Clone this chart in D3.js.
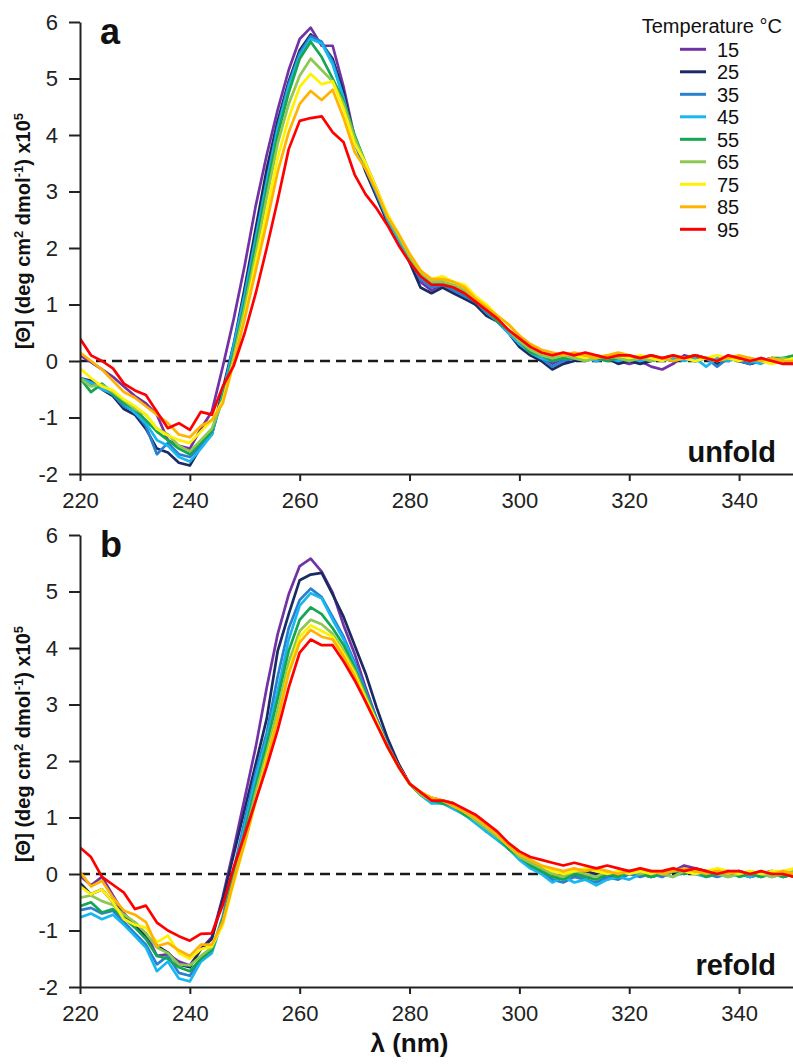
<!DOCTYPE html>
<html><head><meta charset="utf-8">
<script src="https://cdn.jsdelivr.net/npm/d3@7"></script>
<style>body{margin:0;background:#fff} svg{display:block}</style>
</head><body>
<svg id="c" width="793" height="1064"></svg>
<script>
const wavelengths = [220,222,224,226,228,230,232,234,236,238,
  240,242,244,246,248,250,252,254,256,258,
  260,262,264,266,268,270,272,274,276,278,
  280,282,284,286,288,290,292,294,296,298,
  300,302,304,306,308,310,312,314,316,318,
  320,322,324,326,328,330,332,334,336,338,
  340,342,344,346,348,350];
const temperatures = [15,25,35,45,55,65,75,85,95];
const seriesColors = ["#7232a6","#1c2a63","#2a80d0","#1ab6f0","#14a651","#8dc853","#fff200","#ffb300","#ff0000"];
const xTicks = [220,240,260,280,300,320,340];
const yTicks = [-2,-1,0,1,2,3,4,5,6];

// Panel a (unfold)
const a15 = [0.10,-0.02,-0.15,-0.28,-0.45,-0.62,-0.75,-0.95,-1.40,-1.50,
  -1.55,-1.20,-0.90,-0.10,0.75,1.70,2.75,3.65,4.45,5.15,
  5.70,5.90,5.58,5.58,4.85,3.95,3.40,2.95,2.45,2.15,
  1.80,1.40,1.25,1.35,1.25,1.15,1.00,0.85,0.70,0.50,
  0.30,0.20,0.05,-0.05,0.05,0.10,0.05,0.10,0.05,0.00,
  -0.05,0.00,-0.10,-0.15,-0.05,0.10,0.05,0.05,0.00,0.10,
  0.00,-0.05,0.00,0.05,0.00,-0.05];
const a25 = [-0.30,-0.35,-0.50,-0.62,-0.85,-0.95,-1.20,-1.55,-1.62,-1.80,
  -1.85,-1.52,-1.30,-0.50,0.30,1.30,2.35,3.40,4.25,4.95,
  5.50,5.78,5.62,5.35,4.75,3.90,3.35,2.90,2.45,2.10,
  1.75,1.30,1.20,1.30,1.20,1.10,1.00,0.80,0.70,0.50,
  0.25,0.10,0.00,-0.15,-0.05,0.00,0.05,0.00,0.05,-0.05,
  0.00,-0.05,0.00,0.05,0.00,0.05,0.10,0.05,-0.05,0.05,
  0.00,-0.05,0.00,0.05,0.00,0.00];
const a35 = [-0.30,-0.40,-0.45,-0.60,-0.80,-0.90,-1.15,-1.65,-1.45,-1.65,
  -1.70,-1.50,-1.30,-0.60,0.30,1.20,2.20,3.20,4.15,4.90,
  5.45,5.75,5.65,5.30,4.65,3.85,3.40,2.95,2.50,2.15,
  1.80,1.45,1.30,1.35,1.25,1.15,1.05,0.85,0.70,0.50,
  0.30,0.15,0.05,-0.10,0.00,0.05,0.00,0.05,0.00,0.05,
  0.00,0.05,0.00,0.05,0.00,0.05,0.00,0.05,-0.10,0.05,
  0.00,-0.05,0.05,0.00,0.05,0.00];
const a45 = [-0.30,-0.38,-0.50,-0.58,-0.75,-0.92,-1.10,-1.40,-1.50,-1.70,
  -1.78,-1.55,-1.30,-0.60,0.25,1.15,2.15,3.15,4.10,4.85,
  5.40,5.70,5.62,5.25,4.65,3.90,3.45,3.00,2.50,2.15,
  1.80,1.50,1.35,1.40,1.30,1.20,1.05,0.90,0.70,0.50,
  0.30,0.15,0.05,0.00,0.05,0.10,0.05,0.00,0.05,0.00,
  0.05,0.00,0.05,0.00,0.05,0.00,0.05,-0.10,0.05,0.00,
  0.05,0.00,-0.05,0.05,0.00,0.05];
const a55 = [-0.30,-0.55,-0.40,-0.58,-0.75,-0.85,-1.05,-1.25,-1.40,-1.55,
  -1.65,-1.45,-1.25,-0.65,0.15,1.05,2.05,3.05,4.00,4.75,
  5.35,5.65,5.38,5.00,4.60,4.00,3.50,3.05,2.55,2.20,
  1.85,1.50,1.40,1.40,1.30,1.20,1.05,0.90,0.70,0.55,
  0.35,0.15,0.10,0.00,0.05,0.05,0.10,0.05,0.00,0.05,
  0.00,0.05,0.10,0.05,0.00,0.05,0.10,0.05,0.00,0.05,
  0.00,0.05,0.00,0.05,0.05,0.10];
const a65 = [-0.30,-0.45,-0.42,-0.55,-0.70,-0.85,-0.95,-1.20,-1.30,-1.50,
  -1.60,-1.40,-1.20,-0.70,0.08,0.95,1.90,2.90,3.85,4.55,
  5.05,5.35,5.15,4.95,4.55,3.95,3.50,3.05,2.55,2.20,
  1.85,1.55,1.40,1.40,1.35,1.25,1.10,0.90,0.75,0.55,
  0.35,0.20,0.10,0.05,0.10,0.05,0.00,0.05,0.10,0.05,
  0.00,0.05,0.00,0.05,0.10,0.05,0.00,0.05,0.00,0.05,
  0.05,0.00,0.05,0.00,0.05,0.00];
const a75 = [-0.13,-0.30,-0.45,-0.52,-0.68,-0.80,-0.95,-1.20,-1.32,-1.40,
  -1.45,-1.25,-1.05,-0.70,0.00,0.80,1.75,2.65,3.60,4.30,
  4.85,5.08,4.90,4.95,4.45,3.85,3.50,3.05,2.60,2.25,
  1.90,1.60,1.45,1.50,1.40,1.35,1.15,1.00,0.80,0.65,
  0.45,0.25,0.15,0.10,0.15,0.10,0.05,0.10,0.05,0.10,
  0.05,0.10,0.05,0.00,0.10,0.05,0.00,0.05,0.10,0.05,
  0.00,0.05,0.00,-0.05,0.00,0.05];
const a85 = [0.15,0.00,-0.15,-0.35,-0.55,-0.65,-0.80,-0.95,-1.10,-1.30,
  -1.35,-1.15,-1.05,-0.75,-0.02,0.75,1.60,2.45,3.35,4.05,
  4.55,4.78,4.62,4.80,4.30,3.70,3.40,3.00,2.55,2.25,
  1.90,1.60,1.45,1.45,1.40,1.30,1.10,0.95,0.80,0.65,
  0.45,0.30,0.20,0.15,0.10,0.15,0.10,0.05,0.10,0.15,
  0.10,0.05,0.10,0.05,0.00,0.05,0.10,0.05,0.00,0.05,
  0.10,0.05,0.00,0.05,0.00,0.00];
const a95 = [0.40,0.10,0.00,-0.13,-0.40,-0.52,-0.60,-0.90,-1.19,-1.10,
  -1.22,-0.90,-0.95,-0.45,-0.08,0.50,1.20,2.00,2.85,3.75,
  4.25,4.30,4.33,4.05,3.87,3.30,2.95,2.70,2.40,2.05,
  1.75,1.50,1.35,1.35,1.30,1.20,1.05,0.90,0.75,0.55,
  0.40,0.25,0.15,0.10,0.15,0.10,0.15,0.10,0.05,0.10,
  0.10,0.05,0.10,0.05,0.10,0.05,0.10,0.05,0.00,0.10,
  0.05,0.00,0.05,0.00,-0.05,-0.05];

// Panel b (refold)
const b15 = [-0.03,-0.20,-0.05,-0.38,-0.70,-0.90,-1.05,-1.45,-1.42,-1.55,
  -1.62,-1.33,-1.12,-0.40,0.45,1.35,2.25,3.30,4.25,4.95,
  5.45,5.58,5.35,4.98,4.40,3.90,3.30,2.75,2.30,1.95,
  1.60,1.40,1.30,1.30,1.25,1.10,0.95,0.75,0.65,0.45,
  0.30,0.25,0.10,0.00,-0.05,0.00,-0.05,0.00,-0.10,0.00,
  0.05,0.00,0.05,-0.05,0.05,0.15,0.10,0.05,0.00,0.05,
  0.00,-0.05,0.00,0.05,0.00,0.00];
const b25 = [-0.16,-0.36,-0.27,-0.50,-0.74,-0.92,-1.09,-1.27,-1.39,-1.60,
  -1.65,-1.33,-1.15,-0.45,0.35,1.15,1.95,2.75,3.95,4.60,
  5.20,5.30,5.33,4.95,4.55,4.05,3.55,2.95,2.40,1.95,
  1.60,1.40,1.35,1.30,1.25,1.10,1.00,0.80,0.65,0.45,
  0.30,0.20,0.10,-0.05,0.00,-0.05,0.05,0.00,-0.05,0.00,
  0.05,0.00,-0.05,0.00,0.05,0.10,0.05,0.00,0.05,0.00,
  0.05,-0.05,0.00,0.05,-0.05,0.00];
const b35 = [-0.64,-0.60,-0.70,-0.65,-0.85,-1.05,-1.25,-1.60,-1.45,-1.75,
  -1.80,-1.50,-1.35,-0.75,0.08,0.95,1.80,2.50,3.50,4.35,
  4.85,5.05,4.90,4.55,4.20,3.75,3.25,2.75,2.30,1.90,
  1.60,1.40,1.30,1.25,1.20,1.05,0.95,0.75,0.65,0.45,
  0.30,0.15,0.05,-0.10,-0.15,-0.05,-0.10,-0.15,-0.05,-0.10,
  0.00,-0.05,0.00,-0.05,0.05,0.00,0.05,0.00,-0.05,0.00,
  0.05,0.00,-0.05,0.00,0.05,0.00];
const b45 = [-0.77,-0.70,-0.80,-0.72,-0.90,-1.10,-1.30,-1.72,-1.55,-1.85,
  -1.90,-1.55,-1.40,-0.80,0.00,0.85,1.70,2.40,3.25,4.15,
  4.75,4.97,4.88,4.50,4.15,3.70,3.20,2.70,2.25,1.90,
  1.60,1.40,1.25,1.25,1.15,1.05,0.90,0.75,0.60,0.45,
  0.25,0.10,0.00,-0.15,-0.05,-0.15,-0.10,-0.20,-0.10,-0.05,
  -0.10,0.00,-0.05,0.00,-0.05,0.05,0.00,-0.05,0.00,-0.05,
  0.00,-0.05,0.00,-0.05,0.00,-0.05];
const b55 = [-0.57,-0.50,-0.68,-0.62,-0.78,-0.95,-1.15,-1.45,-1.50,-1.65,
  -1.72,-1.50,-1.35,-0.80,-0.05,0.75,1.55,2.30,3.10,3.95,
  4.50,4.72,4.60,4.35,4.05,3.65,3.20,2.70,2.25,1.90,
  1.60,1.40,1.30,1.25,1.20,1.05,0.95,0.80,0.65,0.45,
  0.30,0.15,0.05,-0.05,-0.10,0.00,-0.05,-0.10,0.00,-0.05,
  0.05,0.00,-0.05,0.00,0.05,0.00,0.05,-0.05,0.00,0.05,
  -0.05,0.00,-0.05,0.00,-0.05,0.00];
const b65 = [-0.42,-0.38,-0.48,-0.55,-0.72,-0.85,-1.05,-1.30,-1.40,-1.60,
  -1.62,-1.45,-1.30,-0.85,-0.10,0.65,1.45,2.15,2.90,3.75,
  4.30,4.50,4.42,4.25,3.95,3.60,3.15,2.70,2.25,1.90,
  1.60,1.40,1.30,1.30,1.20,1.10,0.95,0.80,0.65,0.50,
  0.30,0.20,0.10,0.00,-0.05,0.05,0.00,-0.05,0.05,0.00,
  0.05,0.00,0.05,0.00,-0.05,0.05,0.00,0.05,0.00,-0.05,
  0.00,0.05,0.00,-0.05,0.00,0.05];
const b75 = [-0.22,-0.36,-0.27,-0.50,-0.80,-0.90,-0.95,-1.21,-1.09,-1.40,
  -1.50,-1.33,-1.28,-0.90,-0.15,0.55,1.30,2.05,2.75,3.60,
  4.20,4.40,4.30,4.20,3.90,3.55,3.10,2.70,2.25,1.90,
  1.60,1.45,1.35,1.30,1.25,1.10,1.00,0.85,0.70,0.50,
  0.35,0.25,0.15,0.05,0.00,0.05,0.10,0.05,0.00,0.05,
  0.00,0.05,0.00,0.05,0.10,0.05,0.00,0.05,0.10,0.05,
  0.00,0.05,0.00,0.05,0.05,0.10];
const b85 = [0.04,-0.22,-0.12,-0.42,-0.65,-0.72,-0.85,-1.28,-1.22,-1.35,
  -1.45,-1.25,-1.25,-0.85,-0.12,0.55,1.30,2.00,2.75,3.55,
  4.10,4.32,4.20,4.15,3.85,3.50,3.05,2.65,2.25,1.90,
  1.60,1.45,1.35,1.30,1.20,1.10,1.00,0.85,0.70,0.50,
  0.35,0.25,0.15,0.10,0.05,0.10,0.05,0.10,0.05,0.00,
  0.05,0.10,0.05,0.00,0.05,0.10,0.05,0.00,0.05,0.00,
  0.05,0.00,0.05,0.00,0.05,0.00];
const b95 = [0.47,0.30,-0.05,-0.19,-0.33,-0.62,-0.56,-0.86,-1.00,-1.10,
  -1.18,-1.06,-1.05,-0.55,0.12,0.70,1.30,1.90,2.55,3.30,
  3.92,4.15,4.05,4.05,3.76,3.43,3.05,2.65,2.25,1.90,
  1.60,1.45,1.30,1.30,1.25,1.15,1.05,0.90,0.75,0.55,
  0.40,0.30,0.25,0.20,0.15,0.20,0.15,0.10,0.15,0.10,
  0.05,0.10,0.05,0.05,0.10,0.05,0.10,0.05,0.00,0.05,
  0.05,0.00,0.05,0.00,0.00,-0.05];

const unfoldSeries = [a15,a25,a35,a45,a55,a65,a75,a85,a95];
const refoldSeries = [b15,b25,b35,b45,b55,b65,b75,b85,b95];

const FONT = "'Liberation Sans', Arial, Helvetica, sans-serif";
const svg = d3.select('#c');
const x = d3.scaleLinear().domain([220, 350]).range([80, 794]);

const panels = [
  {top: 22, bottom: 474, data: unfoldSeries, letter: 'a', tag: 'unfold', legend: true},
  {top: 535, bottom: 987, data: refoldSeries, letter: 'b', tag: 'refold', legend: false}
];

panels.forEach((p, pi) => {
  const y = d3.scaleLinear().domain([-2, 6]).range([p.bottom, p.top]);
  const g = svg.append('g');

  svg.append('clipPath').attr('id', 'clip' + pi)
    .append('rect').attr('x', 80).attr('y', p.top - 15)
    .attr('width', 714).attr('height', p.bottom - p.top + 15);

  // zero dashed line
  g.append('line')
    .attr('x1', x(220)).attr('x2', x(350))
    .attr('y1', y(0)).attr('y2', y(0))
    .attr('stroke', '#1a1a1a').attr('stroke-width', 2.4)
    .attr('stroke-dasharray', '10,6');

  const line = d3.line()
    .x((d, i) => x(wavelengths[i]))
    .y(d => y(d));

  const curves = g.append('g').attr('clip-path', 'url(#clip' + pi + ')');
  p.data.forEach((vals, si) => {
    curves.append('path')
      .datum(vals)
      .attr('d', line)
      .attr('fill', 'none')
      .attr('stroke', seriesColors[si])
      .attr('stroke-width', 2.7)
      .attr('stroke-linejoin', 'round');
  });

  // axes
  const yAxis = d3.axisLeft(y).tickValues(yTicks).tickSize(11).tickSizeOuter(0)
    .tickPadding(11).tickFormat(d => String(d));
  const ya = g.append('g').attr('transform', 'translate(80,0)').call(yAxis);
  const xAxis = d3.axisBottom(x).tickValues(xTicks).tickSize(7).tickSizeOuter(0)
    .tickPadding(11).tickFormat(d => String(d));
  const xa = g.append('g').attr('transform', 'translate(0,' + p.bottom + ')').call(xAxis);
  [ya, xa].forEach(a => {
    a.select('.domain').attr('stroke', '#222').attr('stroke-width', 2);
    a.selectAll('.tick line').attr('stroke', '#222').attr('stroke-width', 2);
    a.selectAll('.tick text').attr('fill', '#222')
      .style('font-family', FONT).style('font-size', '22px');
  });

  // panel letter
  g.append('text').attr('x', 100).attr('y', p.top + 22)
    .style('font-family', FONT).style('font-weight', 'bold').style('font-size', '36px')
    .attr('fill', '#111').text(p.letter);

  // tag
  g.append('text').attr('x', 776).attr('y', p.bottom - 12)
    .attr('text-anchor', 'end')
    .style('font-family', FONT).style('font-weight', 'bold').style('font-size', '29px')
    .attr('fill', '#111').text(p.tag);

  // y title
  const cy = (p.top + p.bottom) / 2 - 17;
  const t = g.append('text')
    .attr('transform', 'translate(30,' + cy + ') rotate(-90)')
    .attr('text-anchor', 'middle')
    .style('font-family', FONT).style('font-weight', 'bold').style('font-size', '20px')
    .attr('fill', '#111');
  t.append('tspan').text('[Θ] (deg cm');
  t.append('tspan').attr('dy', -7).style('font-size', '13px').text('2');
  t.append('tspan').attr('dy', 7).text(' dmol');
  t.append('tspan').attr('dy', -7).style('font-size', '13px').text('-1');
  t.append('tspan').attr('dy', 7).text(') x10');
  t.append('tspan').attr('dy', -7).style('font-size', '13px').text('5');

  if (p.legend) {
    const lg = g.append('g');
    lg.append('text').attr('x', 782).attr('y', 33).attr('text-anchor', 'end')
      .style('font-family', FONT).style('font-size', '20px').attr('fill', '#111')
      .text('Temperature °C');
    temperatures.forEach((tt, i) => {
      const ly = 49.3 + i * 22.5;
      lg.append('line').attr('x1', 680).attr('x2', 706).attr('y1', ly).attr('y2', ly)
        .attr('stroke', seriesColors[i]).attr('stroke-width', 3);
      lg.append('text').attr('x', 717).attr('y', ly).attr('dy', '0.36em')
        .style('font-family', FONT).style('font-size', '20px').attr('fill', '#111')
        .text(tt);
    });
  }
});

// x title
svg.append('text').attr('x', x(280)).attr('y', 1052).attr('text-anchor', 'middle')
  .style('font-family', FONT).style('font-weight', 'bold').style('font-size', '26px')
  .attr('fill', '#111').text('λ (nm)');
</script>
</body></html>
